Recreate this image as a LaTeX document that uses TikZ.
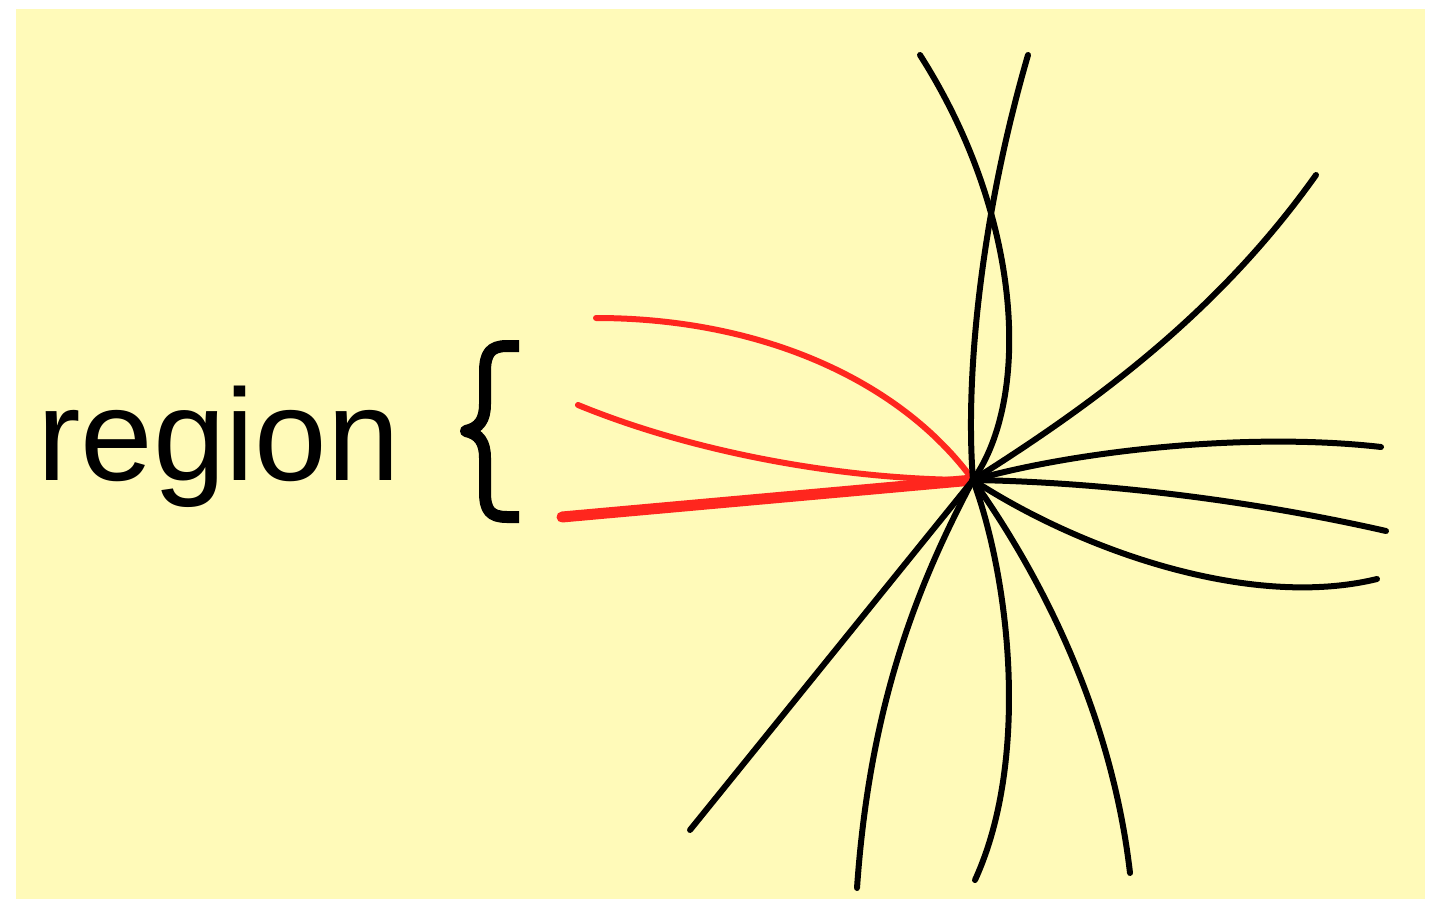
\documentclass[tikz,border=0pt]{standalone}
\usepackage{fontspec}
\setmainfont{Liberation Sans}
\definecolor{bgyellow}{RGB}{255,250,185}
\definecolor{rayred}{RGB}{255,38,30}
\tikzset{
  ray/.style={draw=black, line width=3pt, line cap=round},
  redray/.style={draw=rayred, line width=3pt, line cap=round},
  thickred/.style={draw=rayred, line width=5.5pt, line cap=round},
  bracepath/.style={draw=black, line width=6pt, line join=round},
}
\begin{document}
\begin{tikzpicture}[x=0.5pt,y=-0.5pt]
\useasboundingbox (0,0) rectangle (1429,899);
\fill[bgyellow] (16,9) rectangle (1425,899);
% label
\node[anchor=base west, inner sep=0pt, font=\fontsize{65.2}{70}\selectfont] (lbl) at (37,480) {region};
% brace
\draw[bracepath] (519,346) -- (507,346) .. controls (490,346) and (485,354) .. (485,372) -- (485,404)
  .. controls (485,420) and (479,428) .. (466,431) .. controls (479,434) and (485,442) .. (485,458)
  -- (485,492) .. controls (485,510) and (490,517) .. (507,517) -- (519,517);
% centre
\coordinate (c) at (973,480);
% endpoints
\coordinate (r1) at (596,318);
\coordinate (r2) at (578,405);
\coordinate (r3) at (562,517);
\coordinate (b1) at (920,55);
\coordinate (b2) at (1028,55);
\coordinate (b3) at (1316,175);
\coordinate (b4) at (1381,447);
\coordinate (b5) at (1386,531);
\coordinate (b6) at (1377,579);
\coordinate (b7) at (690,830);
\coordinate (b8) at (857,888);
\coordinate (b9) at (975,880);
\coordinate (b10) at (1130,873);
% red rays
\draw[redray] (r1) .. controls (760,318) and (900,380) .. (c);
\draw[redray] (r2) .. controls (700,455) and (850,480) .. (c);
\draw[thickred] (r3) -- (c);
% black rays
\draw[ray] (c) .. controls (1030,400) and (1025,220) .. (b1);
\draw[ray] (c) .. controls (965,380) and (980,220) .. (b2);
\draw[ray] (c) .. controls (1100,400) and (1220,310) .. (b3);
\draw[ray] (c) .. controls (1080,450) and (1250,432) .. (b4);
\draw[ray] (c) .. controls (1100,482) and (1250,500) .. (b5);
\draw[ray] (c) .. controls (1080,550) and (1250,610) .. (b6);
\draw[ray] (c) -- (b7);
\draw[ray] (c) .. controls (920,580) and (870,700) .. (b8);
\draw[ray] (c) .. controls (1010,580) and (1030,760) .. (b9);
\draw[ray] (c) .. controls (1030,560) and (1110,700) .. (b10);
\fill (c) circle (4);
\end{tikzpicture}
\end{document}
